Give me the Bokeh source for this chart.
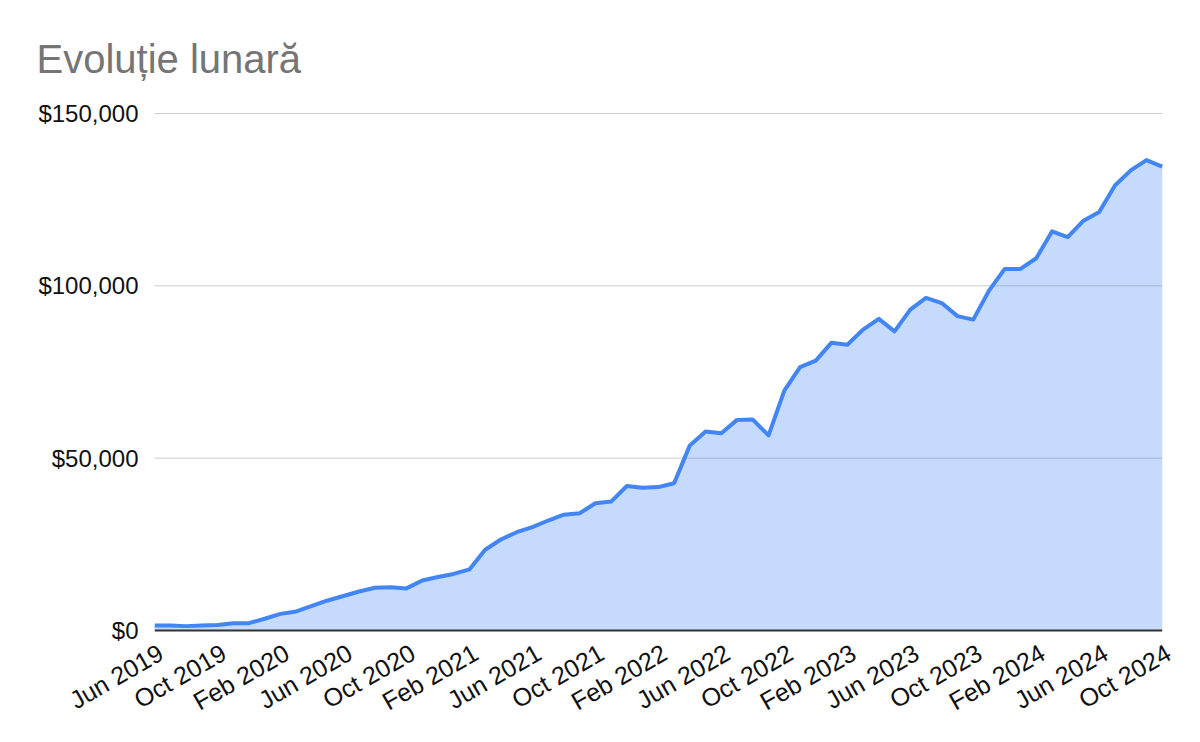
import numpy as np
from bokeh.plotting import figure
from bokeh.models import FixedTicker, NumeralTickFormatter, Range1d
from bokeh.embed import file_html
from bokeh.resources import INLINE

# monthly values, Jun 2019 .. Oct 2024 (65 months)
values = [
    1450, 1400, 1250, 1400, 1600, 2100, 2100, 3400, 4800, 5500,
    7100, 8700, 10000, 11300, 12400, 12500, 12200, 14500, 15500, 16400,
    17700, 23400, 26400, 28500, 30000, 31900, 33600, 34000, 36900, 37400,
    41900, 41400, 41600, 42700, 53700, 57700, 57200, 61100, 61200, 56600,
    69600, 76400, 78300, 83500, 82900, 87300, 90400, 86800, 93100, 96500,
    95000, 91200, 90200, 98600, 104900, 104900, 108000, 115800, 114100, 118900,
    121400, 129100, 133500, 136500, 134600,
]
tick_labels = [
    "Jun 2019", "Oct 2019", "Feb 2020", "Jun 2020", "Oct 2020", "Feb 2021",
    "Jun 2021", "Oct 2021", "Feb 2022", "Jun 2022", "Oct 2022", "Feb 2023",
    "Jun 2023", "Oct 2023", "Feb 2024", "Jun 2024", "Oct 2024",
]
y_ticks = [0, 50000, 100000, 150000]

x = np.arange(len(values))
last = len(values) - 1
# labels sit a little right of their month (no tick marks are drawn)
label_shift = 0.4
tick_pos = [i + label_shift for i in range(0, len(values), 4)]

p = figure(
    frame_width=1014, frame_height=520,
    output_backend="svg", toolbar_location=None,
    x_range=Range1d(0, last + label_shift),
    y_range=Range1d(-600, 150300),
    min_border_left=154, min_border_right=24,
    min_border_top=112, min_border_bottom=100,
    title="Evoluție lunară",
)
p.outline_line_color = None

p.title.text_font = "Liberation Sans"
p.title.text_font_size = "40px"
p.title.text_font_style = "normal"
p.title.text_color = "#757575"
p.title.vertical_align = "top"
p.title.offset = -118
p.title.standoff = 60

# grid lines stop where the data stops, under the translucent area
p.segment(x0=0, x1=last, y0=y_ticks[1:], y1=y_ticks[1:],
          line_color="#cccccc", line_width=1)
p.varea(x=x, y1=0, y2=values, fill_color="#4285f4", fill_alpha=0.3)
p.line(x, values, line_color="#4285f4", line_width=4, line_join="round")
p.segment(x0=0, x1=last, y0=0, y1=0, line_color="#333333", line_width=2)

p.grid.visible = False

p.yaxis.ticker = FixedTicker(ticks=y_ticks)
p.yaxis.formatter = NumeralTickFormatter(format="$0,0")
p.yaxis.axis_line_color = None
p.yaxis.major_tick_line_color = None
p.yaxis.minor_tick_line_color = None
p.yaxis.major_tick_out = 0
p.yaxis.major_label_standoff = 16
p.yaxis.major_label_text_font = "Liberation Sans"
p.yaxis.major_label_text_font_size = "24px"
p.yaxis.major_label_text_color = "#111111"

p.xaxis.ticker = FixedTicker(ticks=tick_pos)
p.xaxis.major_label_overrides = dict(zip(tick_pos, tick_labels))
p.xaxis.major_label_orientation = np.pi / 6
p.xaxis.axis_line_color = None
p.xaxis.major_tick_line_color = None
p.xaxis.minor_tick_line_color = None
p.xaxis.major_tick_out = 0
p.xaxis.major_label_standoff = 18
p.xaxis.major_label_text_font = "Liberation Sans"
p.xaxis.major_label_text_font_size = "25px"
p.xaxis.major_label_text_color = "#111111"

open("out.html", "w").write(file_html(p, INLINE))
